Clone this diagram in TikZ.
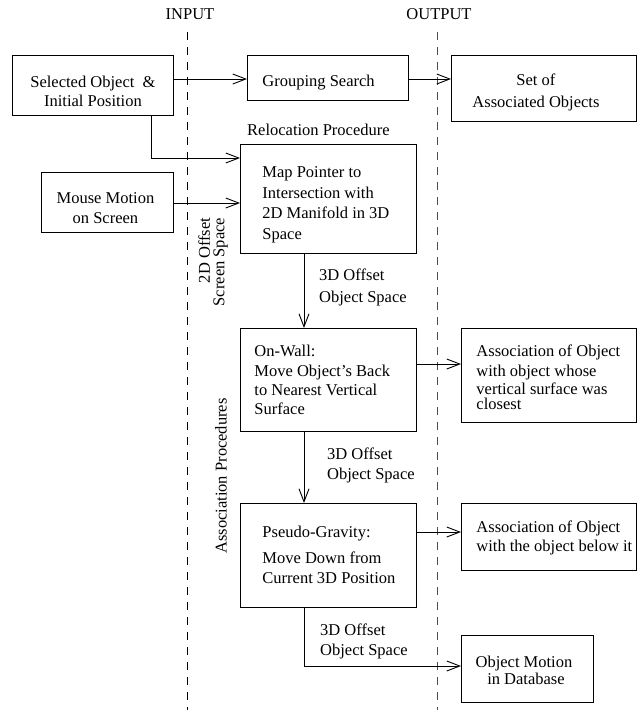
\documentclass[tikz,border=0pt]{standalone}
\usepackage{fontspec}
\setmainfont{Liberation Serif}
\usetikzlibrary{arrows.meta}
% box contents: #1 lowering, #2 left indent, #3 block width, #4 l or c, #5 lines
\newcommand\boxtext[5]{\raisebox{-#1}[\height][\depth]{\hspace*{#2}\makebox[#3][#4]{\begin{tabular}{@{}#4@{}}#5\end{tabular}}}}
\begin{document}
\begin{tikzpicture}[x=1pt,y=-1pt,
  every node/.style={font=\fontsize{16.5}{19}\selectfont},
  box/.style={draw, line width=0.9pt, anchor=north west, inner sep=0pt},
  flow/.style={line width=0.9pt, -{Straight Barb[length=13pt,width=10pt,line width=0.9pt]}},
  divider/.style={line width=0.9pt, dash pattern=on 8pt off 7pt},
  note/.style={anchor=west, align=left, inner sep=0pt},
  side/.style={rotate=90, inner sep=0pt}
]
\useasboundingbox (0,0) rectangle (639,713);

% column headings and dividing lines
\node (inhead) at (190,14) {INPUT};
\node (outhead) at (439,14) {OUTPUT};
\coordinate (intop) at (187,32);
\coordinate (inbot) at (187,710);
\coordinate (outtop) at (437,32);
\coordinate (outbot) at (437,710);
\draw[divider] (intop) -- (inbot);
\draw[divider, black!70] (outtop) -- (outbot);

% boxes
\node[box, minimum width=161pt, minimum height=60pt] (sel) at (12,55)
  {\boxtext{7.5pt}{0pt}{161pt}{c}{Selected Object~~\&\\Initial Position}};
\node[box, minimum width=161pt, minimum height=45pt] (grp) at (247,55)
  {\boxtext{5pt}{15pt}{146pt}{l}{Grouping Search}};
\node[box, minimum width=185pt, minimum height=66pt, font=\fontsize{16.5}{22}\selectfont] (set) at (451,55)
  {\boxtext{4pt}{0pt}{169pt}{c}{Set of\\Associated Objects}\hspace*{16pt}};
\node[box, minimum width=132pt, minimum height=60pt, font=\fontsize{16.5}{20}\selectfont] (mouse) at (41,172)
  {\boxtext{7.5pt}{0pt}{128pt}{c}{Mouse Motion\\on Screen}\hspace*{4pt}};
\node[anchor=south west, inner sep=0pt] (reloc) at (247,136) {Relocation Procedure};
\node[box, minimum width=176pt, minimum height=109pt, font=\fontsize{16.5}{20.7}\selectfont] (map) at (240,144)
  {\boxtext{5.3pt}{22pt}{154pt}{l}{Map Pointer to\\Intersection with\\2D Manifold in 3D\\Space}};
\node[box, minimum width=176pt, minimum height=103pt, font=\fontsize{16.5}{19.3}\selectfont] (wall) at (240,328)
  {\boxtext{2pt}{14pt}{162pt}{l}{On-Wall:\\Move Object's Back\\to Nearest Vertical\\Surface}};
\node[box, minimum width=175pt, minimum height=94pt, font=\fontsize{16.5}{17}\selectfont] (assoc1) at (461,328)
  {\boxtext{4.6pt}{15pt}{160pt}{l}{Association of Object\\[2.5pt]with object whose\\[1.5pt]vertical surface was\\[-2pt]closest}};
\node[box, minimum width=176pt, minimum height=104pt, font=\fontsize{16.5}{20}\selectfont] (grav) at (240,503)
  {\boxtext{1.5pt}{22pt}{154pt}{l}{Pseudo-Gravity:\\[6pt]Move Down from\\Current 3D Position}};
\node[box, minimum width=175pt, minimum height=67pt, font=\fontsize{16.5}{19}\selectfont] (assoc2) at (461,503)
  {\boxtext{1.7pt}{15pt}{160pt}{l}{Association of Object\\with the object below it}};
\node[box, minimum width=132pt, minimum height=67pt, font=\fontsize{16.5}{16.7}\selectfont] (motion) at (461,635)
  {\boxtext{3.7pt}{0pt}{125pt}{c}{Object Motion\\~in Database}\hspace*{7pt}};

% side labels
\node[side, align=right, font=\fontsize{16.5}{14.5}\selectfont] (screen) at (213,262) {2D Offset\\Screen Space};
\node[side] (assocproc) at (221,476) {Association Procedures};

% edge labels
\node[note, font=\fontsize{16.5}{22}\selectfont] (lab1) at (319,287) {3D Offset\\Object Space};
\node[note, font=\fontsize{16.5}{20}\selectfont] (lab2) at (327,465) {3D Offset\\Object Space};
\node[note, font=\fontsize{16.5}{20}\selectfont] (lab3) at (320,641) {3D Offset\\Object Space};

% connectors
\coordinate (col) at (304,0);
\coordinate (bend) at (151,158);
\coordinate (toprow) at (0,79);
\coordinate (mouserow) at (0,203);
\coordinate (wallrow) at (0,364);
\coordinate (gravrow) at (0,532);
\coordinate (motionrow) at (0,666);

\draw[flow] (sel.east |- toprow) -- (grp.west |- toprow);
\draw[flow] (grp.east |- toprow) -- (set.west |- toprow);
\draw[flow] (sel.south -| bend) -- (bend) -- (bend -| map.west);
\draw[flow] (mouse.east |- mouserow) -- (map.west |- mouserow);
\draw[flow] (map.south -| col) -- (wall.north -| col);
\draw[flow] (wall.east |- wallrow) -- (assoc1.west |- wallrow);
\draw[flow] (wall.south -| col) -- (grav.north -| col);
\draw[flow] (grav.east |- gravrow) -- (assoc2.west |- gravrow);
\draw[flow] (grav.south -| col) -- (col |- motionrow) -- (motion.west |- motionrow);
\end{tikzpicture}
\end{document}
